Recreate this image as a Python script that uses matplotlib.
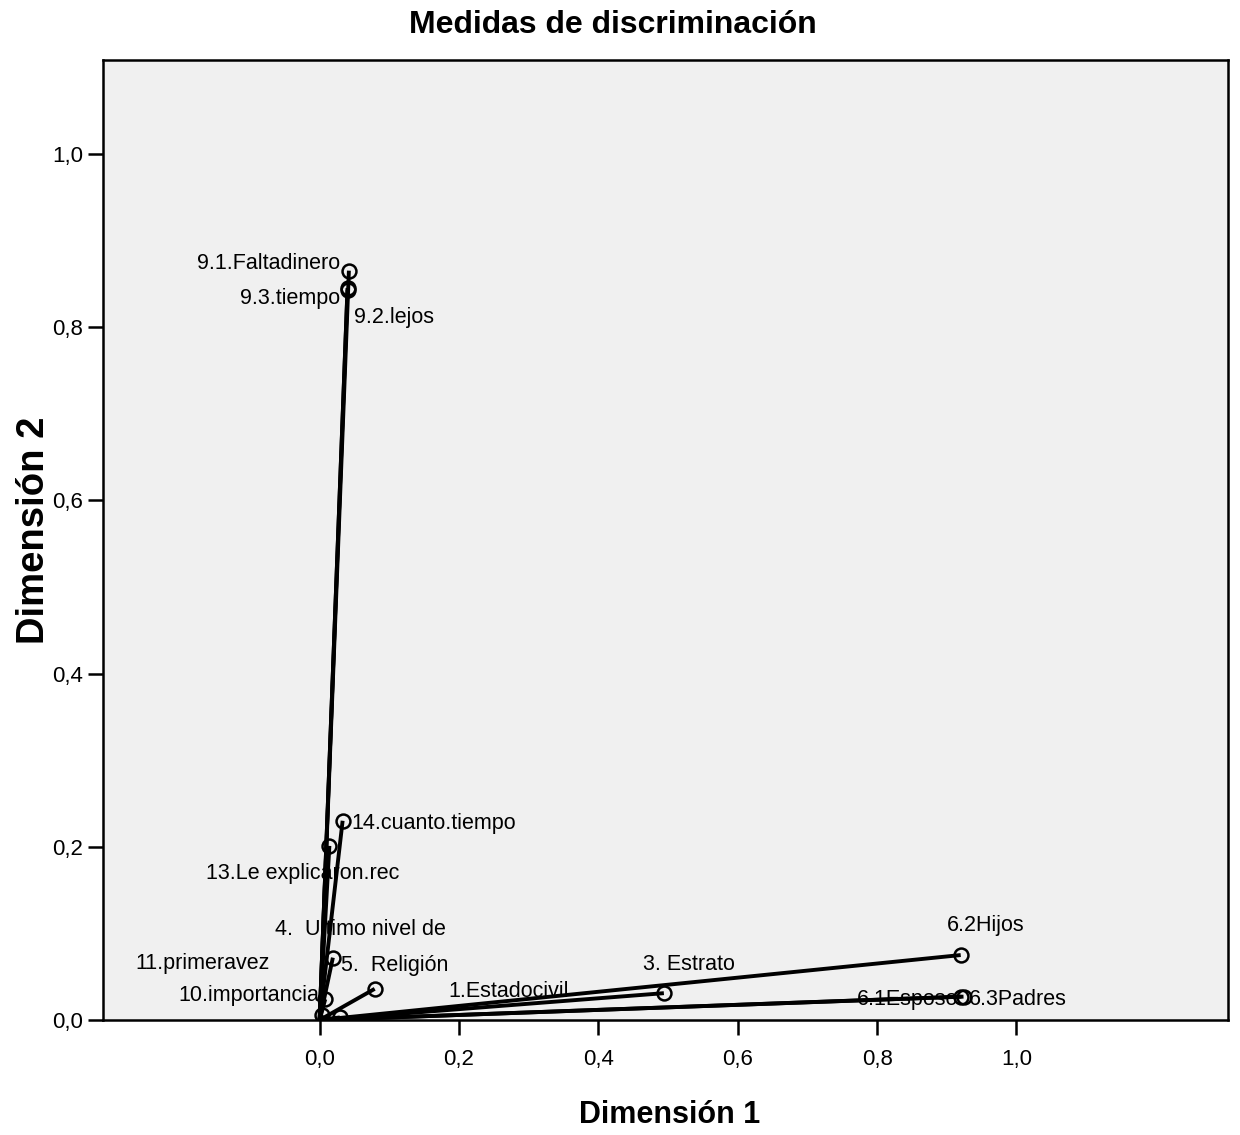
import matplotlib
matplotlib.use("Agg")
import matplotlib.pyplot as plt
import numpy as np

# medidas de discriminación (dim 1, dim 2)
variables = ["1.Estadocivil", "3. Estrato", "4.  Ultimo nivel de", "5.  Religión",
             "6.1Esposo", "6.2Hijos", "6.3Padres",
             "9.1.Faltadinero", "9.2.lejos", "9.3.tiempo",
             "10.importancia", "11.primeravez", "13.Le explicaron.rec", "14.cuanto.tiempo"]
dim1 = [0.029, 0.494, 0.019, 0.079, 0.921, 0.920, 0.924,
        0.042, 0.040, 0.040, 0.008, 0.004, 0.014, 0.033]
dim2 = [0.003, 0.031, 0.072, 0.036, 0.027, 0.075, 0.027,
        0.865, 0.845, 0.843, 0.024, 0.006, 0.201, 0.230]

tick_vals = [0.0, 0.2, 0.4, 0.6, 0.8, 1.0]

# label placement (offset in points, alignment)
label_pos = [((78, 19), "left"), ((18, 21), "center"), ((-42, 20), "left"), ((-24, 17), "left"),
             ((-2, -2), "right"), ((18, 21), "center"), ((4, -2), "left"),
             ((-6, 5), "right"), ((5, -21), "left"), ((-5, -6), "right"),
             ((-4, 3), "right"), ((-38, 37), "right"), ((-19, -20), "center"), ((6, -2), "left")]

sans = ["Liberation Sans", "DejaVu Sans"]

fig = plt.figure(figsize=(12.4, 11.35), dpi=100)
ax = fig.add_axes([0.083, 0.1013, 0.907, 0.8457])
ax.set_facecolor("#f0f0f0")

for x, y in zip(dim1, dim2):
    ax.plot([0, x], [0, y], color="black", lw=2.8, zorder=2, solid_capstyle="butt")
ax.plot(dim1, dim2, "o", ms=10, mfc="none", mec="black", mew=1.8, zorder=3)

for name, x, y, (off, ha) in zip(variables, dim1, dim2, label_pos):
    ax.annotate(name, (x, y), xytext=off, textcoords="offset points",
                ha=ha, va="center", fontsize=15.5, family=sans, zorder=4)

ax.set_xlim(-0.311, 1.303)
ax.set_ylim(0.0, 1.108)

ax.set_xticks(tick_vals)
ax.set_yticks(tick_vals)
ax.set_xticklabels([f"{v:.1f}".replace(".", ",") for v in tick_vals], family=sans, fontsize=16)
ax.set_yticklabels([f"{v:.1f}".replace(".", ",") for v in tick_vals], family=sans, fontsize=16)
ax.tick_params(axis="both", direction="out", length=11, width=1.8, color="black")
ax.tick_params(axis="x", pad=10)
ax.tick_params(axis="y", pad=3)

for s in ax.spines.values():
    s.set_linewidth(1.8)
    s.set_color("black")

fig.text(0.494, 0.978, "Medidas de discriminación", fontsize=23, fontweight="bold",
         family=sans, ha="center", va="center")
ax.set_xlabel("Dimensión 1", fontsize=22, fontweight="bold", family=sans, va="center")
ax.xaxis.set_label_coords(0.504, -0.099)
ax.set_ylabel("Dimensión 2", fontsize=27.5, fontweight="bold", family=sans, va="center")
ax.yaxis.set_label_coords(-0.061, 0.51)

fig.savefig("out.png", dpi=100)
